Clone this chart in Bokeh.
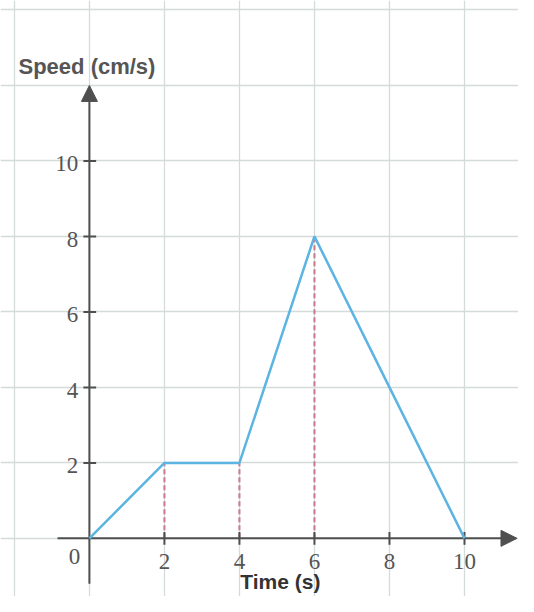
from bokeh.plotting import figure
from bokeh.models import Arrow, NormalHead, FixedTicker
from bokeh.core.properties import value
from bokeh.embed import file_html
from bokeh.resources import INLINE

# Data
time_s = [0, 2, 4, 6, 8, 10]
speed = [0, 2, 2, 8, 4, 0]
drop_x = [2, 4, 6]
drop_y = [2, 2, 8]
x_ticks = [2, 4, 6, 8, 10]
y_ticks = [2, 4, 6, 8, 10]
x_tick_labels = ["2", "4", "6", "8", "10"]
y_tick_labels = ["2", "4", "6", "8", "10"]
grid_x = [-2, 0, 2, 4, 6, 8, 10, 12]
grid_y = [-2, 0, 2, 4, 6, 8, 10, 12, 14]
x_label = "Time (s)"
y_label = "Speed (cm/s)"

# Geometry (axis extents)
x_min, x_max = -2.37, 11.44
y_min, y_max = -1.54, 14.25
x_axis_start, x_axis_end = -0.85, 11.4
y_axis_start, y_axis_end = -1.2, 12.0

AXIS = "#4f4f4f"
LABEL = "#555555"
GRID = "#d3dcdb"
BLUE = "#5bb4e2"
RED = "#c67b8b"

p = figure(width=518, height=596, x_range=(x_min, x_max), y_range=(y_min, y_max),
           output_backend="svg", toolbar_location=None, min_border=0)
p.outline_line_color = None
p.background_fill_color = "white"
p.border_fill_color = "white"
p.xaxis.visible = False
p.yaxis.visible = False
p.xgrid.ticker = FixedTicker(ticks=grid_x)
p.ygrid.ticker = FixedTicker(ticks=grid_y)
p.xgrid.grid_line_color = GRID
p.ygrid.grid_line_color = GRID
p.xgrid.grid_line_width = 1.3
p.ygrid.grid_line_width = 1.3

# dashed drop lines
p.segment(x0=drop_x, y0=[0] * len(drop_x), x1=drop_x, y1=drop_y,
          line_color=RED, line_width=2, line_dash="5 3")

# axes
p.segment(x0=[x_axis_start], y0=[0], x1=[x_axis_end - 0.2], y1=[0], line_color=AXIS, line_width=2)
p.segment(x0=[0], y0=[y_axis_start], x1=[0], y1=[y_axis_end - 0.2], line_color=AXIS, line_width=2)
p.add_layout(Arrow(end=NormalHead(size=16, fill_color=AXIS, line_color=AXIS),
                   x_start=x_axis_end - 0.4, y_start=0, x_end=x_axis_end, y_end=0,
                   line_color=AXIS, line_width=2))
p.add_layout(Arrow(end=NormalHead(size=16, fill_color=AXIS, line_color=AXIS),
                   x_start=0, y_start=y_axis_end - 0.4, x_end=0, y_end=y_axis_end,
                   line_color=AXIS, line_width=2))

# tick marks
p.segment(x0=x_ticks, y0=[-0.17] * len(x_ticks), x1=x_ticks, y1=[0.17] * len(x_ticks),
          line_color=AXIS, line_width=2)
p.segment(x0=[-0.16] * len(y_ticks), y0=y_ticks, x1=[0.18] * len(y_ticks), y1=y_ticks,
          line_color=AXIS, line_width=2)

# speed line
p.line(time_s, speed, line_color=BLUE, line_width=2.5)

# tick labels
p.text(x=x_ticks, y=[-0.62] * len(x_ticks), text=x_tick_labels,
       text_font=value("Liberation Serif"), text_font_size="23px", text_color=LABEL,
       text_align="center", text_baseline="middle")
p.text(x=[-0.3] * len(y_ticks), y=[t - 0.08 for t in y_ticks], text=y_tick_labels,
       text_font=value("Liberation Serif"), text_font_size="23px", text_color=LABEL,
       text_align="right", text_baseline="middle")
p.text(x=[-0.4], y=[-0.48], text=["0"],
       text_font=value("Liberation Serif"), text_font_size="23px", text_color=LABEL,
       text_align="center", text_baseline="middle")

# axis titles
p.text(x=[-1.89], y=[12.5], text=[y_label], text_font=value("Liberation Sans"),
       text_font_style="bold", text_font_size="22px", text_color=LABEL,
       text_align="left", text_baseline="middle")
p.text(x=[5.09], y=[y_min + 0.1], text=[x_label], text_font=value("Liberation Sans"),
       text_font_style="bold", text_font_size="21px", text_color="#333333",
       text_align="center", text_baseline="bottom")

open("out.html", "w").write(file_html(p, INLINE))
